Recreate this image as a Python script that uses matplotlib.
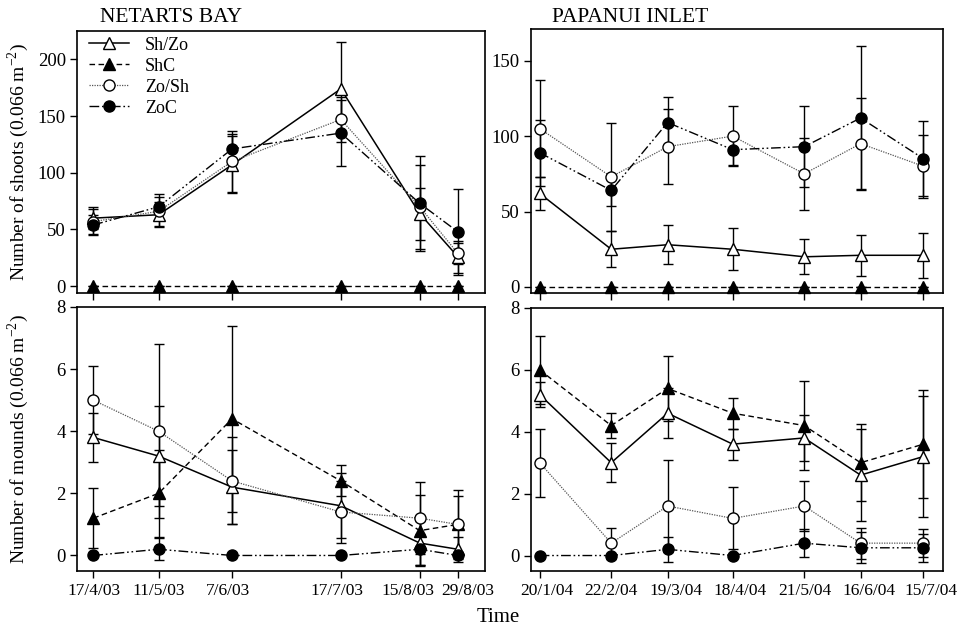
import numpy as np
import matplotlib
matplotlib.use('Agg')
import matplotlib.pyplot as plt
import matplotlib.dates as mdates
from datetime import date

plt.rcParams['font.family'] = ['Liberation Serif', 'DejaVu Serif']
plt.rcParams['mathtext.fontset'] = 'custom'
plt.rcParams['mathtext.rm'] = 'Liberation Serif'

# ---- Netarts Bay ----
net_dates = [date(2003, 4, 17), date(2003, 5, 11), date(2003, 6, 7),
             date(2003, 7, 17), date(2003, 8, 15), date(2003, 8, 29)]
net_labels = ['17/4/03', '11/5/03', '7/6/03', '17/7/03', '15/8/03', '29/8/03']

net_shoots = {
    'Sh/Zo': [60, 63, 107, 174, 64, 26],
    'ShC':   [0, 0, 0, 0, 0, 0],
    'Zo/Sh': [57, 66, 110, 147, 70, 29],
    'ZoC':   [54, 70, 121, 135, 73, 48],
}
net_shoots_err = {
    'Sh/Zo': [10, 11, 25, 41, 23, 14],
    'ShC':   [0, 0, 0, 0, 0, 0],
    'Zo/Sh': [11, 13, 27, 20, 37, 9],
    'ZoC':   [9, 11, 13, 29, 42, 38],
}
net_mounds = {
    'Sh/Zo': [3.8, 3.2, 2.2, 1.6, 0.4, 0.2],
    'ShC':   [1.2, 2.0, 4.4, 2.4, 0.8, 1.0],
    'Zo/Sh': [5.0, 4.0, 2.4, 1.4, 1.2, 1.0],
    'ZoC':   [0.0, 0.2, 0.0, 0.0, 0.2, 0.0],
}
net_mounds_err = {
    'Sh/Zo': [0.8, 1.6, 1.2, 1.05, 0.7, 0.4],
    'ShC':   [0.96, 1.4, 3.0, 0.5, 1.15, 0.9],
    'Zo/Sh': [1.1, 2.8, 1.4, 1.0, 1.15, 1.1],
    'ZoC':   [0.0, 0.35, 0.0, 0.0, 0.5, 0.0],
}

# ---- Papanui Inlet ----
pap_dates = [date(2004, 1, 20), date(2004, 2, 22), date(2004, 3, 19),
             date(2004, 4, 18), date(2004, 5, 21), date(2004, 6, 16),
             date(2004, 7, 15)]
pap_labels = ['20/1/04', '22/2/04', '19/3/04', '18/4/04', '21/5/04',
              '16/6/04', '15/7/04']

pap_shoots = {
    'Sh/Zo': [62, 25, 28, 25, 20, 21, 21],
    'ShC':   [0, 0, 0, 0, 0, 0, 0],
    'Zo/Sh': [105, 73, 93, 100, 75, 95, 80],
    'ZoC':   [89, 64, 109, 91, 93, 112, 85],
}
pap_shoots_err = {
    'Sh/Zo': [11, 12, 13, 14, 11.5, 13.5, 15],
    'ShC':   [0, 0, 0, 0, 0, 0, 0],
    'Zo/Sh': [32, 36, 25, 20, 24, 30, 21],
    'ZoC':   [22, 10, 17, 10, 27, 48, 25],
}
pap_mounds = {
    'Sh/Zo': [5.2, 3.0, 4.6, 3.6, 3.8, 2.6, 3.2],
    'ShC':   [6.0, 4.2, 5.4, 4.6, 4.2, 3.0, 3.6],
    'Zo/Sh': [3.0, 0.4, 1.6, 1.2, 1.6, 0.4, 0.4],
    'ZoC':   [0.0, 0.0, 0.2, 0.0, 0.4, 0.25, 0.25],
}
pap_mounds_err = {
    'Sh/Zo': [0.4, 0.63, 0.8, 0.5, 0.75, 1.5, 1.95],
    'ShC':   [1.1, 0.4, 1.05, 0.5, 1.45, 1.25, 1.75],
    'Zo/Sh': [1.1, 0.5, 1.5, 1.0, 0.8, 0.5, 0.45],
    'ZoC':   [0.0, 0.0, 0.4, 0.0, 0.45, 0.5, 0.45],
}

styles = {
    'Sh/Zo': dict(ls='-', color='black', lw=1.1, marker='^', mfc='white', mec='black', ms=8),
    'ShC':   dict(ls=(0, (4, 2.5)), color='black', lw=1.0, marker='^', mfc='black', mec='black', ms=8),
    'Zo/Sh': dict(ls=(0, (1, 1)), color='#555555', lw=0.9, marker='o', mfc='white', mec='black', ms=8),
    'ZoC':   dict(ls=(0, (7, 2, 1.2, 2, 1.2, 2)), color='black', lw=1.0, marker='o', mfc='black', mec='black', ms=8),
}
order = ['Sh/Zo', 'ShC', 'Zo/Sh', 'ZoC']

fig = plt.figure(figsize=(9.61, 6.28), dpi=100)
W, H = 961.0, 628.0


def make_ax(l, r, t, b):
    return fig.add_axes([l / W, 1 - b / H, (r - l) / W, (b - t) / H])


ax_tl = make_ax(77, 485, 31, 293)
ax_bl = make_ax(77, 485, 307, 571)
ax_tr = make_ax(531, 943, 29, 293)
ax_br = make_ax(531, 943, 308, 571)


def draw(ax, dates, vals, errs):
    x = mdates.date2num(dates)
    for k in order:
        st = styles[k]
        ax.errorbar(x, vals[k], yerr=errs[k], fmt='none', ecolor='black',
                    elinewidth=1.0, capsize=3.5, capthick=1.0, zorder=2)
        ax.plot(x, vals[k], label=k, zorder=3, clip_on=False, **st)


def date_labels(ax, dates, labels, shifts):
    # labels sit slightly off their ticks in the original, shift in pixels
    ax.set_xticklabels([''] * len(labels))
    for d, lab, sh in zip(dates, labels, shifts):
        ax.annotate(lab, xy=(mdates.date2num(d), 0), xycoords=('data', 'axes fraction'),
                    xytext=(sh * 0.72, -8.5), textcoords='offset points',
                    ha='center', va='top', fontsize=12.5)


draw(ax_tl, net_dates, net_shoots, net_shoots_err)
draw(ax_bl, net_dates, net_mounds, net_mounds_err)
draw(ax_tr, pap_dates, pap_shoots, pap_shoots_err)
draw(ax_br, pap_dates, pap_mounds, pap_mounds_err)

net_lim = (mdates.date2num(date(2003, 4, 11)), mdates.date2num(date(2003, 9, 8)))
pap_lim = (mdates.date2num(date(2004, 1, 16)), mdates.date2num(date(2004, 7, 24)))

for ax in (ax_tl, ax_bl):
    ax.set_xlim(net_lim)
    ax.set_xticks(mdates.date2num(net_dates))
for ax in (ax_tr, ax_br):
    ax.set_xlim(pap_lim)
    ax.set_xticks(mdates.date2num(pap_dates))

ax_tl.set_xticklabels([])
ax_tr.set_xticklabels([])
date_labels(ax_bl, net_dates, net_labels, [1, 0, -4, -4, -12, 10])
date_labels(ax_br, pap_dates, pap_labels, [7, 0, 8, 7, 1, 8, 8])

ax_tl.set_ylim(-6, 225)
ax_tl.set_yticks([0, 50, 100, 150, 200])
ax_tr.set_ylim(-4, 171)
ax_tr.set_yticks([0, 50, 100, 150])
for ax in (ax_bl, ax_br):
    ax.set_ylim(-0.5, 8)
    ax.set_yticks([0, 2, 4, 6, 8])

for ax in (ax_tl, ax_bl, ax_tr, ax_br):
    ax.tick_params(direction='out', length=5, width=1, labelsize=13.5, pad=3)
    for s in ax.spines.values():
        s.set_linewidth(1.2)

ax_tl.set_ylabel('Number of shoots (0.066 m$^{-2}$)', fontsize=14)
ax_bl.set_ylabel('Number of mounds (0.066 m$^{-2}$)', fontsize=14)
ax_tl.yaxis.set_label_coords(-0.113, 0.5)
ax_bl.yaxis.set_label_coords(-0.113, 0.5)

fig.text(100 / W, 1 - 17 / H, 'NETARTS BAY', fontsize=15.5, va='center', ha='left')
fig.text(552 / W, 1 - 17 / H, 'PAPANUI INLET', fontsize=15.5, va='center', ha='left')
fig.text(498 / W, 1 - 617 / H, 'Time', fontsize=15, va='center', ha='center')

leg = ax_tl.legend(loc='upper left', bbox_to_anchor=(0.025, 0.985), frameon=False,
                   fontsize=13, handlelength=2.2, borderaxespad=0.0,
                   labelspacing=0.22, handletextpad=0.9, borderpad=0.1)

fig.savefig('out.png', dpi=100)
